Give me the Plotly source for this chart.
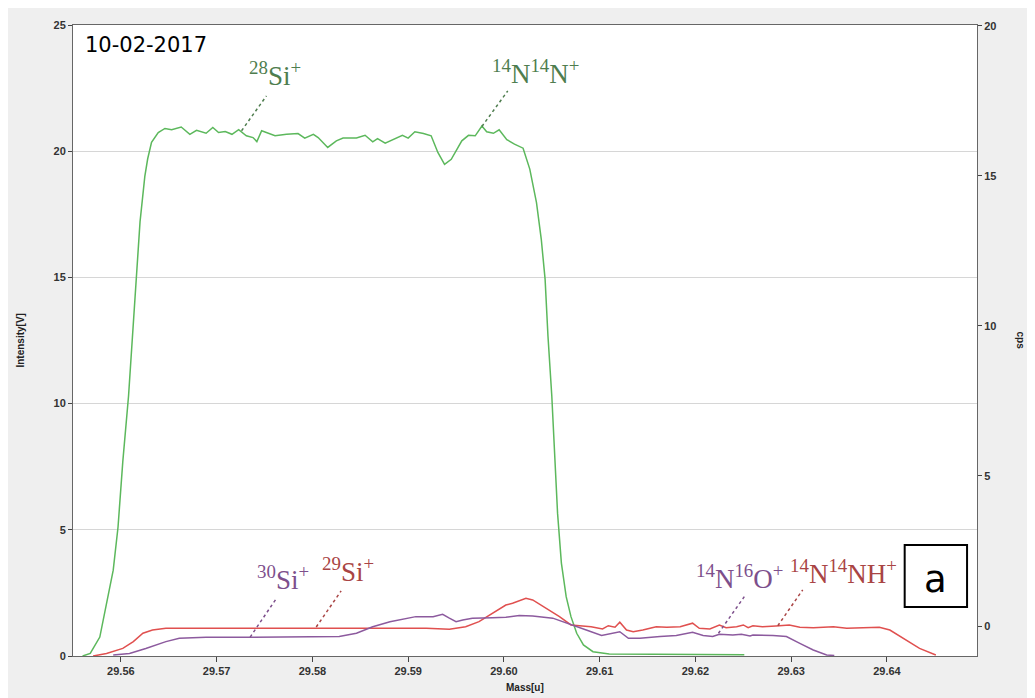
import plotly.graph_objects as go

# Mass scan data
green_mass = [29.5560, 29.5568, 29.5578, 29.5585, 29.5592, 29.5597, 29.5602, 29.5608, 29.5613, 29.5616,
              29.5620, 29.5625, 29.5628, 29.5632, 29.5639, 29.5646, 29.5653, 29.5663, 29.5672, 29.5679,
              29.5689, 29.5696, 29.5702, 29.5709, 29.5716, 29.5723, 29.5731, 29.5738, 29.5742, 29.5747,
              29.5752, 29.5761, 29.5773, 29.5785, 29.5792, 29.5801, 29.5806, 29.5816, 29.5825, 29.5832,
              29.5846, 29.5855, 29.5863, 29.5868, 29.5876, 29.5886, 29.5894, 29.5900, 29.5907, 29.5916,
              29.5924, 29.5931, 29.5938, 29.5945, 29.5956, 29.5963, 29.5970, 29.5977, 29.5982, 29.5989,
              29.5995, 29.6003, 29.6011, 29.6020, 29.6027, 29.6034, 29.6039, 29.6043, 29.6046, 29.6050,
              29.6053, 29.6056, 29.6060, 29.6065, 29.6070, 29.6076, 29.6083, 29.6093, 29.6110, 29.6251]
green_intensity = [0.0, 0.1, 0.75, 2.1, 3.4, 5.1, 7.7, 10.3, 13.2, 15.0,
                   17.2, 19.0, 19.7, 20.35, 20.74, 20.9, 20.85, 20.96, 20.67, 20.83,
                   20.71, 20.94, 20.74, 20.78, 20.67, 20.85, 20.61, 20.54, 20.38, 20.81,
                   20.74, 20.61, 20.67, 20.70, 20.52, 20.67, 20.54, 20.15, 20.41, 20.52,
                   20.52, 20.63, 20.37, 20.50, 20.32, 20.48, 20.63, 20.52, 20.77, 20.70,
                   20.61, 19.95, 19.48, 19.68, 20.41, 20.63, 20.61, 21.0, 20.77, 20.71,
                   20.85, 20.46, 20.28, 20.12, 19.29, 17.96, 16.51, 14.92, 12.67, 10.29,
                   7.65, 5.66, 3.68, 2.35, 1.56, 0.90, 0.44, 0.17, 0.08, 0.05]

red_mass = [29.5571, 29.5585, 29.5602, 29.5613, 29.5623, 29.5633, 29.5647, 29.5793, 29.5846, 29.5898,
            29.5919, 29.5943, 29.5960, 29.5974, 29.5988, 29.6002, 29.6009, 29.6020, 29.6023, 29.6030,
            29.6044, 29.6058, 29.6070, 29.6081, 29.6091, 29.6103, 29.6109, 29.6116, 29.6121, 29.6128,
            29.6135, 29.6145, 29.6159, 29.6170, 29.6184, 29.6197, 29.6204, 29.6215, 29.6225, 29.6232,
            29.6243, 29.6250, 29.6255, 29.6260, 29.6270, 29.6284, 29.6298, 29.6309, 29.6323, 29.6344,
            29.6358, 29.6375, 29.6392, 29.6403, 29.6417, 29.6434, 29.6451]
red_intensity = [0.0, 0.1, 0.3, 0.57, 0.90, 1.03, 1.10, 1.10, 1.10, 1.12,
                 1.10, 1.06, 1.16, 1.36, 1.69, 2.02, 2.09, 2.26, 2.29, 2.22,
                 1.89, 1.56, 1.23, 1.20, 1.16, 1.07, 1.20, 1.14, 1.34, 1.03,
                 0.96, 1.03, 1.16, 1.14, 1.16, 1.30, 1.10, 1.07, 1.23, 1.12,
                 1.16, 1.23, 1.12, 1.20, 1.16, 1.19, 1.23, 1.14, 1.12, 1.16,
                 1.10, 1.12, 1.14, 1.03, 0.70, 0.30, 0.04]

purple_mass = [29.5592, 29.5609, 29.5626, 29.5647, 29.5661, 29.5689, 29.5724, 29.5759, 29.5828, 29.5846,
               29.5863, 29.5881, 29.5894, 29.5908, 29.5926, 29.5936, 29.5943, 29.5950, 29.5957, 29.5967,
               29.5988, 29.6002, 29.6016, 29.6030, 29.6051, 29.6070, 29.6086, 29.6102, 29.6112, 29.6121,
               29.6130, 29.6142, 29.6163, 29.6180, 29.6197, 29.6208, 29.6218, 29.6225, 29.6239, 29.6248,
               29.6257, 29.6260, 29.6281, 29.6295, 29.6309, 29.6323, 29.6337, 29.6345]
purple_intensity = [0.04, 0.1, 0.30, 0.57, 0.70, 0.74, 0.74, 0.74, 0.77, 0.90,
                    1.16, 1.36, 1.47, 1.56, 1.56, 1.65, 1.50, 1.36, 1.43, 1.50,
                    1.52, 1.54, 1.60, 1.58, 1.50, 1.26, 1.03, 0.81, 0.90, 0.96,
                    0.70, 0.70, 0.77, 0.81, 0.94, 0.81, 0.77, 0.86, 0.83, 0.86,
                    0.79, 0.83, 0.81, 0.77, 0.50, 0.24, 0.04, 0.02]

GREEN = "#5cb85c"
RED = "#e0504f"
PURPLE = "#8c5a9e"
GREEN_TXT = "#4e7d4e"
RED_TXT = "#a94444"
PURPLE_TXT = "#7d4f8c"


def add_label(fig, text, color, tx, ty, x0, y0, x1, y1):
    # species label with a dotted leader line down to the curve
    fig.add_shape(type="line", x0=x0, y0=y0, x1=x1, y1=y1, xref="x", yref="y",
                  line=dict(color=color, width=1.5, dash="dot"))
    fig.add_annotation(x=tx, y=ty, xref="x", yref="y", text=text, showarrow=False,
                       xanchor="center", yanchor="middle",
                       font=dict(family="Liberation Serif", size=27, color=color))


fig = go.Figure()
fig.add_scatter(x=green_mass, y=green_intensity, mode="lines",
                line=dict(color=GREEN, width=1.5), showlegend=False)
fig.add_scatter(x=red_mass, y=red_intensity, mode="lines",
                line=dict(color=RED, width=1.5), showlegend=False)
fig.add_scatter(x=purple_mass, y=purple_intensity, mode="lines",
                line=dict(color=PURPLE, width=1.5), showlegend=False)
# empty trace so the cps axis gets drawn
fig.add_scatter(x=[None], y=[None], yaxis="y2", showlegend=False, hoverinfo="skip")

tickfont = dict(family="Liberation Sans", size=11, color="#333333", weight="bold")

fig.update_layout(
    width=1035,
    height=698,
    margin=dict(l=65, r=66, t=17, b=50),
    paper_bgcolor="#efefef",
    plot_bgcolor="white",
    xaxis=dict(range=[29.555, 29.6494], tickvals=[29.56 + 0.01 * i for i in range(9)],
               tickformat=".2f", ticks="outside", ticklen=5, tickcolor="#444",
               showgrid=False, zeroline=False, showline=True, linecolor="#666",
               linewidth=1, mirror=True, tickfont=tickfont),
    yaxis=dict(range=[0, 25], tickvals=[0, 5, 10, 15, 20, 25], ticks="outside",
               ticklen=4, tickcolor="#444", showgrid=True, gridcolor="#d6d6d6",
               zeroline=False, showline=True, linecolor="#666", linewidth=1,
               tickfont=tickfont),
    yaxis2=dict(range=[-1, 20.03], tickvals=[0, 5, 10, 15, 20], overlaying="y",
                side="right", ticks="outside", ticklen=4, tickcolor="#444",
                showgrid=False, zeroline=False, showline=True, linecolor="#666",
                linewidth=1, tickfont=tickfont),
)

axis_title_font = dict(family="Liberation Sans", size=10, color="#222", weight="bold")
fig.add_annotation(x=-0.0586, y=0.5, xref="paper", yref="paper", text="Intensity[V]",
                   textangle=-90, showarrow=False, xanchor="center", yanchor="middle",
                   font=axis_title_font)
fig.add_annotation(x=0.5, y=-0.0507, xref="paper", yref="paper", text="Mass[u]",
                   showarrow=False, xanchor="center", yanchor="middle", font=axis_title_font)
fig.add_annotation(x=1.0476, y=0.5, xref="paper", yref="paper", text="cps",
                   textangle=90, showarrow=False, xanchor="center", yanchor="middle",
                   font=axis_title_font)

# date stamp
fig.add_annotation(x=0.011, y=0.968, xref="paper", yref="paper", text="10-02-2017",
                   xanchor="left", yanchor="middle", showarrow=False,
                   font=dict(family="DejaVu Sans", size=21, color="black"))

# panel letter box
fig.add_shape(type="rect", xref="paper", yref="paper", x0=0.920, x1=0.989, y0=0.0777, y1=0.176,
              line=dict(color="black", width=2), fillcolor="white")
fig.add_annotation(x=0.9546, y=0.1215, xref="paper", yref="paper", text="a", showarrow=False,
                   xanchor="center", yanchor="middle",
                   font=dict(family="DejaVu Sans", size=37, color="black"))

add_label(fig, "<sup>28</sup>Si<sup>+</sup>", GREEN_TXT, 29.5761, 23.06, 29.5726, 20.81, 29.5752, 22.19)
add_label(fig, "<sup>14</sup>N<sup>14</sup>N<sup>+</sup>", GREEN_TXT, 29.6033, 23.13, 29.5977, 20.98, 29.6004, 22.39)
add_label(fig, "<sup>30</sup>Si<sup>+</sup>", PURPLE_TXT, 29.5769, 3.10, 29.5735, 0.75, 29.5762, 2.26)
add_label(fig, "<sup>29</sup>Si<sup>+</sup>", RED_TXT, 29.5837, 3.41, 29.5804, 1.15, 29.5830, 2.58)
add_label(fig, "<sup>14</sup>N<sup>16</sup>O<sup>+</sup>", PURPLE_TXT, 29.6246, 3.13, 29.6224, 0.90, 29.6251, 2.35)
add_label(fig, "<sup>14</sup>N<sup>14</sup>NH<sup>+</sup>", RED_TXT, 29.6355, 3.33, 29.6286, 1.20, 29.6312, 2.62)

fig.write_html("out.html")
